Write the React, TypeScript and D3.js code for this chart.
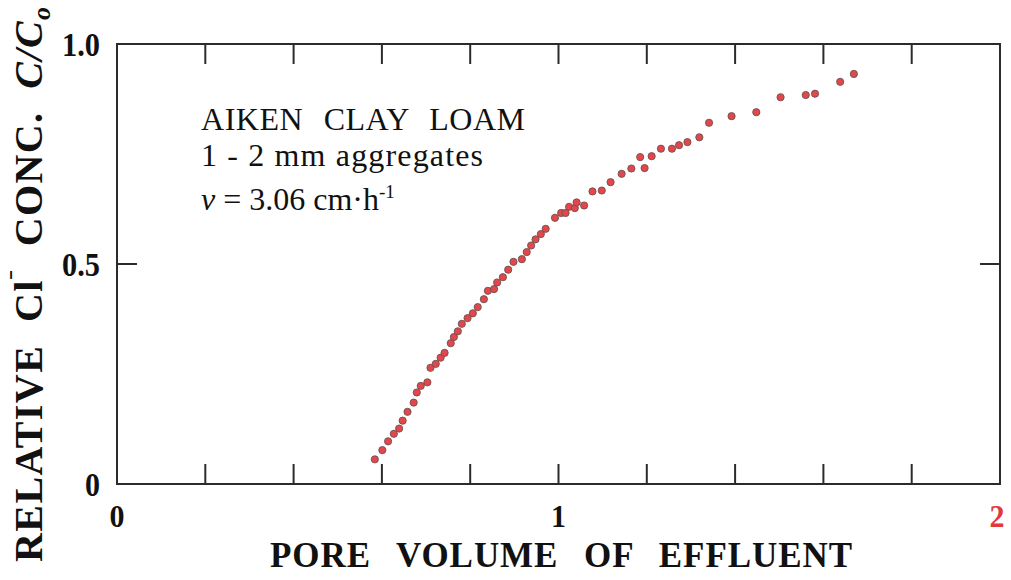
import React from "react";
import * as d3 from "d3";

// Breakthrough curve of chloride, Aiken clay loam, 1-2 mm aggregates
const poreVolume = [
  0.584, 0.601, 0.614, 0.627, 0.639, 0.647, 0.658, 0.672, 0.679, 0.688,
  0.703, 0.71, 0.722, 0.733, 0.742, 0.756, 0.763, 0.772, 0.781, 0.794,
  0.806, 0.817, 0.831, 0.84, 0.854, 0.861, 0.874, 0.886, 0.898, 0.917,
  0.928, 0.938, 0.948, 0.96, 0.971, 0.992, 1.006, 1.016, 1.024, 1.037,
  1.041, 1.058, 1.077, 1.098, 1.118, 1.143, 1.165, 1.185, 1.195, 1.211,
  1.232, 1.257, 1.273, 1.292, 1.319, 1.341, 1.392, 1.448, 1.503, 1.56,
  1.581, 1.638, 1.669,
];
const relativeConc = [
  0.056, 0.077, 0.097, 0.114, 0.126, 0.144, 0.164, 0.185, 0.208, 0.223,
  0.231, 0.264, 0.273, 0.287, 0.298, 0.32, 0.334, 0.347, 0.364, 0.377,
  0.388, 0.402, 0.42, 0.439, 0.443, 0.458, 0.47, 0.487, 0.505, 0.511,
  0.527, 0.542, 0.556, 0.568, 0.58, 0.605, 0.616, 0.616, 0.63, 0.627,
  0.64, 0.633, 0.665, 0.667, 0.686, 0.705, 0.717, 0.743, 0.718, 0.745,
  0.762, 0.762, 0.77, 0.777, 0.788, 0.821, 0.836, 0.845, 0.879, 0.884,
  0.887, 0.914, 0.932,
];

const xTickValues = [0, 1, 2];
const xTickLabels = ["0", "1", "2"];
const xMinorTicks = [0.2, 0.4, 0.6, 0.8, 1.0, 1.2, 1.4, 1.6, 1.8];
const yTickValues = [0, 0.5, 1];
const yTickLabels = ["0", "0.5", "1.0"];
const yInnerTicks = [0.5];

const SERIF = "'Liberation Serif', 'DejaVu Serif', serif";
const AXIS = "#2b2b2b";

export default function App() {
  const W = 1011;
  const H = 580;
  const left = 117;
  const right = 1000;
  const top = 44;
  const bottom = 484;
  const tickLen = 20;

  const x = d3.scaleLinear().domain([0, 2]).range([left, right]);
  const y = d3.scaleLinear().domain([0, 1]).range([bottom, top]);

  const points = poreVolume.map((v, i) => ({ v, c: relativeConc[i] }));

  return (
    <svg
      width={W}
      height={H}
      viewBox={`0 0 ${W} ${H}`}
      style={{ position: "absolute", left: 0, top: 0, background: "#fff" }}
    >
      {/* frame */}
      <rect
        x={left}
        y={top}
        width={right - left}
        height={bottom - top}
        fill="none"
        stroke={AXIS}
        strokeWidth={2}
      />

      {/* inward ticks on bottom and top */}
      {xMinorTicks.map((t) => (
        <g key={`xt${t}`} stroke={AXIS} strokeWidth={2}>
          <line x1={x(t)} x2={x(t)} y1={bottom} y2={bottom - tickLen} />
          <line x1={x(t)} x2={x(t)} y1={top} y2={top + tickLen} />
        </g>
      ))}

      {/* inward ticks on left and right */}
      {yInnerTicks.map((t) => (
        <g key={`yt${t}`} stroke={AXIS} strokeWidth={2}>
          <line x1={left} x2={left + tickLen} y1={y(t)} y2={y(t)} />
          <line x1={right} x2={right - tickLen} y1={y(t)} y2={y(t)} />
        </g>
      ))}

      {/* x tick labels */}
      {xTickValues.map((t, i) => (
        <text
          key={`xl${t}`}
          x={x(t) - (i === xTickValues.length - 1 ? 3 : 0)}
          y={527}
          textAnchor="middle"
          fontFamily={SERIF}
          fontWeight="bold"
          fontSize={31}
          textLength={15}
          lengthAdjust="spacingAndGlyphs"
          fill={i === xTickValues.length - 1 ? "#e0393e" : "#111"}
        >
          {xTickLabels[i]}
        </text>
      ))}

      {/* y tick labels */}
      {yTickValues.map((t, i) => (
        <text
          key={`yl${t}`}
          x={100}
          y={y(t) + 12}
          textAnchor="end"
          fontFamily={SERIF}
          fontWeight="bold"
          fontSize={33}
          textLength={yTickLabels[i].length > 1 ? 38 : 15}
          lengthAdjust="spacingAndGlyphs"
          fill="#111"
        >
          {yTickLabels[i]}
        </text>
      ))}

      {/* x axis title */}
      <text
        x={270}
        y={567}
        fontFamily={SERIF}
        fontWeight="bold"
        fontSize={35}
        fill="#111"
        textLength={582}
        lengthAdjust="spacing"
        wordSpacing={16}
      >
        PORE VOLUME OF EFFLUENT
      </text>

      {/* y axis title */}
      <g transform="translate(42,0) rotate(-90)">
        <text
          x={-562}
          y={0}
          fontFamily={SERIF}
          fontWeight="bold"
          fontSize={40}
          fill="#111"
          textLength={555}
          lengthAdjust="spacing"
          style={{ whiteSpace: "pre" }}
        >
          {"RELATIVE  Cl"}
          <tspan dy={-16} fontSize={26}>ˉ</tspan>
          <tspan dy={16}>{"  CONC.  "}</tspan>
          <tspan fontStyle="italic">C/C</tspan>
          <tspan dy={8} fontSize={26} fontStyle="italic">o</tspan>
        </text>
      </g>

      {/* annotation */}
      <g fontFamily={SERIF} fontSize={32} fill="#111">
        <text x={201} y={130} textLength={324} lengthAdjust="spacing" wordSpacing={12}>
          AIKEN CLAY LOAM
        </text>
        <text x={201} y={166} textLength={282} lengthAdjust="spacing">
          1 - 2 mm aggregates
        </text>
        <text x={201} y={210}>
          <tspan fontStyle="italic">v</tspan>
          <tspan> = 3.06 cm·h</tspan>
          <tspan dy={-12} fontSize={19}>-1</tspan>
        </text>
      </g>

      {/* observations */}
      <g>
        {points.map((p, i) => (
          <circle
            key={i}
            cx={x(p.v)}
            cy={y(p.c)}
            r={3.6}
            fill="#e4474b"
            stroke="#6b5050"
            strokeWidth={0.9}
          />
        ))}
      </g>
    </svg>
  );
}
